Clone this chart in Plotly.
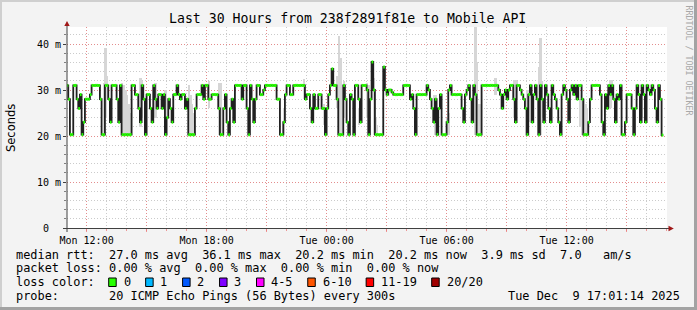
import numpy as np
import pandas as pd
import plotly.graph_objects as go

# ---------------- data ----------------
# median RTT in ms, one value per 5-minute sample, starting Mon 2025-12-08 11:00
median_rtt_ms = [
    31, 28, 20.3, 20.3, 31, 31, 28, 26, 29, 20.3,
    23, 28, 28, 28, 29, 31, 31, 31, 31, 31,
    28, 20.3, 20.3, 31, 31, 28, 23, 31, 31, 31,
    28, 23, 31, 20.3, 20.3, 20.3, 20.3, 20.3, 20.3, 31,
    31, 29, 29, 26, 23, 31, 28, 20.3, 29, 29,
    26, 23, 31, 28, 26, 29, 29, 26, 29, 20.3,
    24, 28, 26, 23, 29, 29, 31, 29, 28, 29,
    29, 26, 28, 20.3, 20.3, 20.3, 20.3, 26, 29, 29,
    29, 31, 28, 31, 31, 28, 28, 29, 29, 29,
    29, 26, 20.3, 20.3, 26, 29, 23, 20.3, 26, 28,
    23, 31, 31, 31, 31, 28, 31, 31, 26, 20.3,
    31, 28, 23, 28, 31, 31, 29, 29, 30, 31,
    31, 31, 31, 31, 31, 31, 28, 28, 20.3, 20.3,
    23, 29, 31, 31, 29, 29, 31, 31, 31, 31,
    31, 31, 31, 28, 29, 29, 26, 23, 29, 26,
    26, 29, 29, 26, 26, 20.3, 26, 29, 31, 34.6,
    31, 31, 28, 20.3, 20.3, 20.3, 31, 28, 23, 20.3,
    29, 28, 20.3, 31, 31, 28, 23, 31, 31, 31,
    30, 20.3, 28, 36.1, 30, 20.3, 20.3, 20.3, 20.3, 20.3,
    35, 30, 29, 30, 30, 29.5, 29, 29, 29, 29,
    29, 29, 31, 31, 31, 31, 28, 29, 26, 20.3,
    29, 29, 29, 29, 29, 29, 31, 30, 28, 26,
    23, 28, 20.3, 26, 29, 20.3, 20.3, 20.3, 23, 30,
    31, 29, 29, 29, 29, 29, 29, 26, 23, 29,
    30, 31, 28, 23, 31, 29, 20.3, 20.3, 20.3, 31,
    31, 31, 31, 31, 31, 31, 31, 31, 31, 30,
    29, 26, 29, 30, 28, 30, 31, 31, 28, 23,
    31, 31, 30, 29, 28, 26, 20.3, 29, 31, 23,
    29, 31, 28, 20.3, 31, 28, 23, 31, 29, 26,
    23, 31, 29, 28, 26, 23, 20.3, 29, 31, 30,
    28, 23, 30, 31, 29, 31, 28, 31, 31, 28,
    20.3, 20.3, 20.3, 23, 28, 31, 31, 31, 31, 31,
    29, 23, 20.3, 29, 26, 31, 29, 31, 28, 23,
    29, 28, 31, 20.3, 20.3, 23, 29, 29, 29, 26,
    20.3, 26, 31, 29, 23, 31, 29, 23, 31, 30,
    29, 31, 30, 26, 23, 31, 28, 20.2,
]

# visible "smoke" (spread of the 20 pings) for some samples: index, low, high (ms)
smoke_sample = [22, 23, 24, 33, 34, 35, 36, 37, 38, 44, 45, 53, 59, 73, 74, 75, 76,
                85, 91, 92, 109, 130, 142, 154, 162, 163, 164, 166, 175, 180, 181,
                184, 185, 186, 220, 221, 228, 229, 245, 246, 247, 248, 257, 268,
                269, 270, 276, 277, 283, 284, 285, 308, 309, 310, 311, 312, 326,
                327, 345]
smoke_low_ms = [20.3, 24, 28, 20.3, 20.3, 20.3, 20.3, 20.3, 20.3, 22, 24, 24, 20.3,
                20.3, 20.3, 20.3, 20.3, 26, 20.3, 20.3, 20.3, 20.3, 28, 22.5, 26,
                20.3, 20.3, 24, 22.5, 24, 20.3, 20.3, 20.3, 20.3, 23, 20.3, 20.3,
                20.3, 20.3, 20.3, 20.3, 20.3, 29, 24, 24, 28, 20.3, 23, 22, 20.3,
                24, 22, 20.3, 20.3, 20.3, 20.3, 26, 28, 24]
smoke_high_ms = [31.5, 39.1, 33, 31.5, 31, 30, 29, 27, 25, 32.7, 32, 31.5, 30,
                 31, 29, 27, 25, 32, 31.5, 31.5, 26, 26, 32.5, 27, 33,
                 41.7, 37, 32, 26, 31.5, 31, 32.6, 24, 22.5, 29, 29, 24,
                 25, 44, 36, 27, 27, 32.6, 32.2, 32.2, 32, 30, 30, 35, 41.3,
                 32, 28, 28, 28, 27, 26, 32.2, 32.2, 30]

y_tick_values = [0, 10, 20, 30, 40]
y_tick_labels = ["0\u00a0\u00a0", "10 m", "20 m", "30 m", "40 m"]
x_tick_times = ["2025-12-08 12:00", "2025-12-08 15:00", "2025-12-08 18:00",
                "2025-12-08 21:00", "2025-12-09 00:00", "2025-12-09 03:00",
                "2025-12-09 06:00", "2025-12-09 09:00", "2025-12-09 12:00",
                "2025-12-09 15:00"]
x_tick_labels = ["Mon 12:00", "", "Mon 18:00", "", "Tue 00:00", "",
                 "Tue 06:00", "", "Tue 12:00", ""]
loss_labels = ["0", "1", "2", "3", "4-5", "6-10", "11-19", "20/20"]
loss_colors = ["#26ff00", "#00b8ff", "#0059ff", "#7e00ff", "#ff00ff",
               "#ff5500", "#ff0000", "#a00000"]

title_text = "Last 30 Hours from 238f2891f81e to Mobile API"
legend_lines = [
    "median rtt:  27.0 ms avg  36.1 ms max  20.2 ms min  20.2 ms now  3.9 ms sd  7.0   am/s",
    "packet loss: 0.00 % avg  0.00 % max  0.00 % min  0.00 % now",
    "loss color:",
    "probe:       20 ICMP Echo Pings (56 Bytes) every 300s",
]
stamp_text = "Tue Dec  9 17:01:14 2025"

# ---------------- geometry helpers (pixel -> paper) ----------------
W, H = 697, 310
PL, PR, PT, PB = 67, 667, 27, 228


def px(x):
    return (x - PL) / (PR - PL)


def py(y):
    return (PB - y) / (PB - PT)


def nb(s):
    return s.replace(" ", "\u00a0")


step = pd.Timedelta(minutes=5)
t0 = pd.Timestamp("2025-12-08 11:00:00")
n = len(median_rtt_ms)
times = [t0 + i * step for i in range(n)]

fig = go.Figure()

# smoke
sm_x = [times[i] + step / 2 for i in smoke_sample]
sm_base = smoke_low_ms
sm_h = [h - l for l, h in zip(smoke_low_ms, smoke_high_ms)]
fig.add_trace(go.Bar(x=sm_x, y=sm_h, base=sm_base, width=300000,
                     marker=dict(color="#d6d6d6", line=dict(width=0)),
                     hoverinfo="skip"))

# black median step line
bx = times + [times[-1] + step]
by = median_rtt_ms + [median_rtt_ms[-1]]
fig.add_trace(go.Scatter(x=bx, y=by, mode="lines", line_shape="hv",
                         line=dict(color="#202020", width=1.8), hoverinfo="skip"))

# green loss-coloured segments (loss 0 everywhere)
gx, gy = [], []
for i, v in enumerate(median_rtt_ms):
    gx += [times[i], times[i] + step, None]
    gy += [v, v, None]
fig.add_trace(go.Scatter(x=gx, y=gy, mode="lines",
                         line=dict(color=loss_colors[0], width=3), hoverinfo="skip"))

x_start = pd.Timestamp("2025-12-08 11:01:14")
x_end = pd.Timestamp("2025-12-09 17:01:14")

major_grid = "rgba(235,120,120,0.75)"
minor_grid = "#cbcbcb"

fig.update_layout(
    width=W, height=H,
    margin=dict(l=PL, r=W - PR, t=PT, b=H - PB, pad=0),
    paper_bgcolor="#f3f3f3", plot_bgcolor="#ffffff",
    showlegend=False, bargap=0,
    font=dict(family="DejaVu Sans Mono", size=10, color="#000000"),
    xaxis=dict(
        type="date", range=[x_start, x_end],
        tickmode="array", tickvals=x_tick_times, ticktext=x_tick_labels,
        showgrid=True, gridcolor=major_grid, griddash="1px,2px", gridwidth=1,
        ticks="outside", ticklen=3, tickcolor=major_grid, tickwidth=1,
        showline=False, zeroline=False,
        tickfont=dict(family="DejaVu Sans Mono", size=10, color="#000"),
        minor=dict(tickmode="linear", tick0="2025-12-08 00:00", dtick=3600000,
                   showgrid=True, gridcolor=minor_grid, griddash="1px,2px",
                   gridwidth=1, ticks="outside", ticklen=2, tickcolor=major_grid),
    ),
    yaxis=dict(
        range=[0, 43.7],
        tickmode="array", tickvals=y_tick_values, ticktext=y_tick_labels,
        showgrid=True, gridcolor=major_grid, griddash="1px,2px", gridwidth=1,
        ticks="outside", ticklen=3, tickcolor="#404040", tickwidth=1,
        showline=False, zeroline=False,
        tickfont=dict(family="DejaVu Sans Mono", size=10, color="#000"),
        minor=dict(tickmode="linear", tick0=0, dtick=2,
                   showgrid=True, gridcolor=minor_grid, griddash="1px,2px",
                   gridwidth=1, ticks="outside", ticklen=2, tickcolor="#808080"),
    ),
)

shapes = []
# frame (3D-ish border)
shapes.append(dict(type="rect", xref="paper", yref="paper", x0=px(0), x1=px(W), y0=py(0), y1=py(2),
                   fillcolor="#cfcfcf", line=dict(width=0), layer="above"))
shapes.append(dict(type="rect", xref="paper", yref="paper", x0=px(0), x1=px(2), y0=py(0), y1=py(H),
                   fillcolor="#cfcfcf", line=dict(width=0), layer="above"))
shapes.append(dict(type="rect", xref="paper", yref="paper", x0=px(0), x1=px(W), y0=py(H - 3), y1=py(H),
                   fillcolor="#a3a3a3", line=dict(width=0), layer="above"))
shapes.append(dict(type="rect", xref="paper", yref="paper", x0=px(W - 3), x1=px(W), y0=py(0), y1=py(H),
                   fillcolor="#a3a3a3", line=dict(width=0), layer="above"))
# axis lines
shapes.append(dict(type="line", xref="paper", yref="paper", x0=px(67), x1=px(67), y0=py(232), y1=py(24),
                   line=dict(color="#404040", width=1), layer="above"))
shapes.append(dict(type="line", xref="paper", yref="paper", x0=px(63), x1=px(670), y0=py(228.5), y1=py(228.5),
                   line=dict(color="#404040", width=1), layer="above"))
# arrows
shapes.append(dict(type="path", xref="paper", yref="paper",
                   path=f"M {px(64.3)} {py(26)} L {px(69.7)} {py(26)} L {px(67)} {py(21)} Z",
                   fillcolor="#a01818", line=dict(width=0), layer="above"))
shapes.append(dict(type="path", xref="paper", yref="paper",
                   path=f"M {px(668.5)} {py(225.8)} L {px(668.5)} {py(231.2)} L {px(673.8)} {py(228.5)} Z",
                   fillcolor="#a01818", line=dict(width=0), layer="above"))

annotations = []
annotations.append(dict(text=nb(title_text), x=px(347.5), y=py(19), xref="paper", yref="paper",
                        showarrow=False, xanchor="center", yanchor="middle",
                        font=dict(family="DejaVu Sans Mono", size=13.2, color="#000")))
annotations.append(dict(text="Seconds", x=px(11), y=py(128), xref="paper", yref="paper",
                        showarrow=False, textangle=-90, xanchor="center", yanchor="middle",
                        font=dict(family="DejaVu Sans", size=11.5, color="#000")))
annotations.append(dict(text=nb("RRDTOOL / TOBI OETIKER"), x=px(688.5), y=py(60), xref="paper", yref="paper",
                        showarrow=False, textangle=90, xanchor="center", yanchor="middle",
                        font=dict(family="DejaVu Sans Mono", size=8.3, color="#a8a8a8")))

LEG_FONT = dict(family="DejaVu Sans Mono", size=11.9, color="#000")
line_y = [254.5, 268.3, 282.2, 296]
for txt, yy in zip(legend_lines, line_y):
    annotations.append(dict(text=nb(txt), x=px(14), y=py(yy), xref="paper", yref="paper",
                            showarrow=False, xanchor="left", yanchor="middle", font=LEG_FONT))
annotations.append(dict(text=nb(stamp_text), x=px(682), y=py(296), xref="paper", yref="paper",
                        showarrow=False, xanchor="right", yanchor="middle", font=LEG_FONT))

# loss colour boxes
cw = 7.15
bx0 = 108.7
for lab, col in zip(loss_labels, loss_colors):
    shapes.append(dict(type="rect", xref="paper", yref="paper",
                       x0=px(bx0), x1=px(bx0 + 7.5), y0=py(278), y1=py(286.5),
                       fillcolor=col, line=dict(color="#000", width=1), layer="above"))
    annotations.append(dict(text=nb(lab), x=px(bx0 + 14.8 - 2), y=py(282.2), xref="paper", yref="paper",
                            showarrow=False, xanchor="left", yanchor="middle", font=LEG_FONT))
    bx0 = bx0 + 14.8 + len(lab) * cw + 15

fig.update_layout(shapes=shapes, annotations=annotations)
fig.write_html("out.html")
